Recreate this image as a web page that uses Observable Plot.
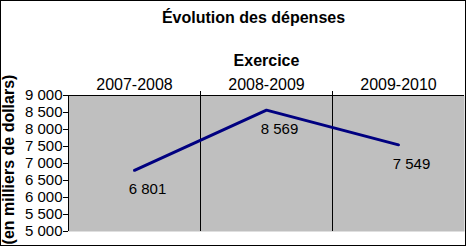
<!DOCTYPE html>
<html>
<head>
<meta charset="utf-8">
<script src="https://cdn.jsdelivr.net/npm/d3@7"></script>
<script src="https://cdn.jsdelivr.net/npm/@observablehq/plot@0.6"></script>
<style>
  body { margin: 0; background: white; }
  #chart { width: 464px; height: 244px; border: 1px solid black; overflow: hidden; }
  #chart svg { display: block; }
</style>
</head>
<body>
<div id="chart"></div>
<script>
const title = "Évolution des dépenses";
const xTitle = "Exercice";
const yTitle = "(en milliers de dollars)";
const categories = ["2007-2008", "2008-2009", "2009-2010"];
const values = [6801, 8569, 7549];
const yTicks = [5000, 5500, 6000, 6500, 7000, 7500, 8000, 8500, 9000];

const fr = d3.formatLocale({decimal: ",", thousands: " ", grouping: [3], currency: ["", ""]});
const fmt = fr.format(",d");

const data = categories.map((c, i) => ({cat: c, pos: i + 0.5, v: values[i]}));
const bounds = categories.slice(1).map((c, i) => i + 1);

const font = "Arial, 'Liberation Sans', sans-serif";

const svg = Plot.plot({
  width: 464,
  height: 244,
  marginLeft: 67,
  marginRight: 1,
  marginTop: 94,
  marginBottom: 14,
  style: {fontFamily: font, color: "black", background: "white", overflow: "visible"},
  x: {type: "linear", domain: [0, categories.length], axis: null},
  y: {domain: [5000, 9000]},
  marks: [
    Plot.frame({fill: "url(#dots)", stroke: "none"}),
    Plot.ruleX(bounds, {stroke: "black", insetTop: -4}),
    Plot.ruleX([0], {stroke: "black"}),
    Plot.ruleY([9000], {stroke: "black"}),
    Plot.axisY({ticks: yTicks, tickFormat: fmt, tickSize: 5, tickPadding: 1, fontSize: 15, label: null, stroke: "black"}),
    Plot.line(data, {x: "pos", y: "v", stroke: "#000080", strokeWidth: 3}),
    Plot.text(data, {x: "pos", y: "v", text: d => fmt(d.v), dx: 13, dy: 19, fontSize: 15, fill: "black"}),
    Plot.text(data, {x: "pos", text: "cat", frameAnchor: "top", dy: -17, fontSize: 16, fill: "black"}),
    Plot.text([xTitle], {text: d => d, frameAnchor: "top", dy: -41, fontSize: 16, fontWeight: "bold", fill: "black"}),
    Plot.text([title], {text: d => d, frameAnchor: "top", dx: -13, dy: -84, fontSize: 16, fontWeight: "bold", fill: "black"}),
    Plot.text([yTitle], {text: d => d, frameAnchor: "left", textAnchor: "middle", rotate: -90, dx: -60, dy: -4, fontSize: 16, fontWeight: "bold", fill: "black"})
  ]
});

d3.select(svg).insert("defs", ":first-child").html(
  '<pattern id="dots" width="2" height="2" patternUnits="userSpaceOnUse">' +
  '<rect width="2" height="2" fill="#d0d0d0"></rect>' +
  '<rect width="1" height="1" fill="#8c8c8c"></rect></pattern>'
);

document.getElementById("chart").appendChild(svg);
</script>
</body>
</html>
